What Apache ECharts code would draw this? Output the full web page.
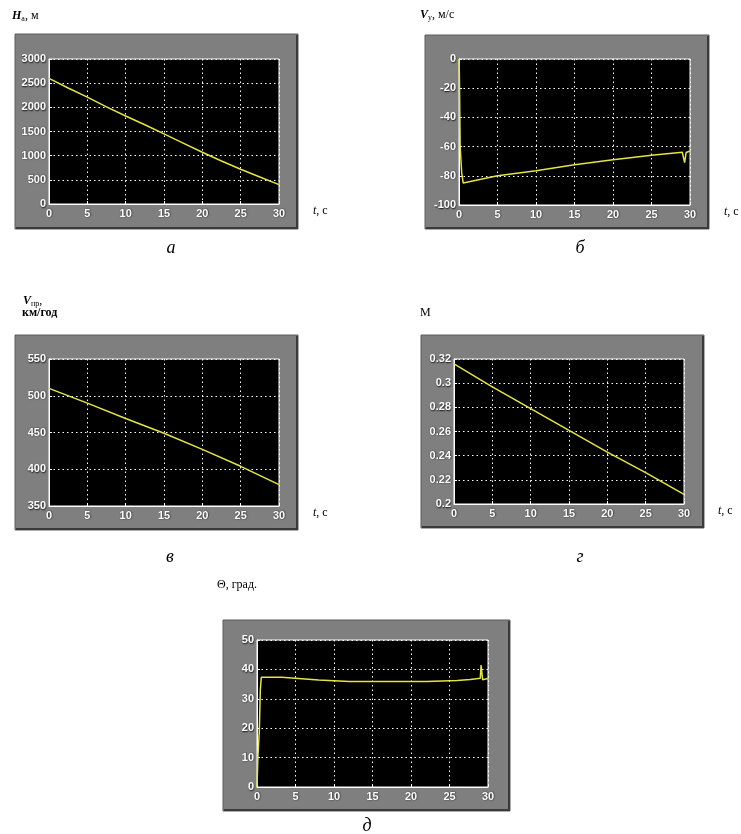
<!DOCTYPE html>
<html>
<head>
<meta charset="utf-8">
<script src="https://cdn.jsdelivr.net/npm/echarts@6/dist/echarts.min.js"></script>
<style>
html,body{margin:0;padding:0;background:#fff;}
#chart{width:741px;height:834px;}
</style>
</head>
<body>
<div id="chart"></div>
<script>
// ---- data ----
// (а) altitude H_a, m
const tA = [0, 2.5, 5, 7.5, 10, 12.5, 15, 17.5, 20, 22.5, 25, 27.5, 30];
const hA = [2600, 2400, 2210, 2010, 1820, 1640, 1450, 1260, 1070, 890, 720, 560, 400];
// (б) vertical speed V_y, m/s
const tB = [0, 0.05, 0.15, 0.35, 0.55, 5, 10, 15, 20, 25, 29, 29.15, 29.3, 29.5, 30];
const vB = [0, -10, -60, -78, -85, -80, -76.5, -72.5, -69, -66, -63.8, -64.5, -71, -64, -63];
// (в) indicated speed V_pr, km/h
const tC = [0, 5, 10, 15, 20, 25, 30];
const vC = [510, 490, 469, 449, 427, 404, 379];
// (г) Mach number M
const tD = [0, 5, 10, 15, 20, 25, 30];
const mD = [0.316, 0.297, 0.279, 0.261, 0.243, 0.226, 0.208];
// (д) flight path angle Θ, deg
const tE = [0, 0.13, 0.3, 0.43, 0.56, 3.2, 3.4, 8, 12, 22, 26, 27.7, 29, 29.1, 29.3, 29.5, 30];
const thE = [0, 11, 19, 33, 37.3, 37.3, 36.8, 36.4, 35.9, 35.9, 36.2, 36.6, 37, 41.5, 36.5, 37, 36.9];

// tick settings
const xTicks = {min: 0, max: 30, interval: 5};
const yTicks = [
  {min: 0, max: 3000, interval: 500},
  {min: -100, max: 0, interval: 20},
  {min: 350, max: 550, interval: 50},
  {min: 0.2, max: 0.32, interval: 0.02},
  {min: 0, max: 50, interval: 10}
];
const seriesT = [tA, tB, tC, tD, tE];
const seriesV = [hA, vB, vC, mD, thE];
const panelLetters = ['а', 'б', 'в', 'г', 'д'];

// ---- layout ----
const grids = [
  {left: 49, top: 59, width: 230, height: 145},
  {left: 459, top: 59, width: 231, height: 146},
  {left: 49, top: 359, width: 230, height: 147},
  {left: 454, top: 359, width: 230, height: 145},
  {left: 257, top: 640, width: 231, height: 147}
];
const panels = [
  [15, 34, 283, 195],
  [425, 35, 284, 194],
  [15, 335, 283, 195],
  [421, 335, 283, 193],
  [223, 620, 287, 191]
];
const letterPos = [[171, 248], [580, 248], [170, 557], [580, 557], [367, 826]];

const labelStyle = {
  color: '#ffffff', fontFamily: 'Liberation Sans, Arial, sans-serif', fontSize: 11, fontWeight: 'bold',
  textShadowColor: 'rgba(0,0,0,0.85)', textShadowBlur: 1.5, textShadowOffsetX: 0.5, textShadowOffsetY: 0.5
};
const serif = 'Liberation Serif, Times New Roman, serif';
const fmt = v => String(parseFloat(v.toFixed(2)));

const xAxes = [], yAxes = [], series = [];
grids.forEach((g, i) => {
  xAxes.push({
    type: 'value', gridIndex: i, min: xTicks.min, max: xTicks.max, interval: xTicks.interval,
    position: 'bottom',
    axisLine: {show: true, onZero: false, lineStyle: {color: '#ffffff', width: 1}},
    axisTick: {show: true, inside: true, length: 3, lineStyle: {color: '#ffffff'}},
    axisLabel: Object.assign({margin: 4, formatter: fmt}, labelStyle),
    splitLine: {show: true, lineStyle: {color: '#ffffff', type: [1.5, 3], width: 1}},
    name: i === 4 ? '' : '{i|t}{n|, с}',
    nameLocation: 'end', nameGap: 34,
    nameTextStyle: {
      padding: [14, 0, 0, 0],
      rich: {
        i: {fontFamily: serif, fontStyle: 'italic', fontSize: 12, color: '#000'},
        n: {fontFamily: serif, fontSize: 12, color: '#000'}
      }
    }
  });
  yAxes.push({
    type: 'value', gridIndex: i, min: yTicks[i].min, max: yTicks[i].max, interval: yTicks[i].interval,
    position: 'left',
    axisLine: {show: true, onZero: false, lineStyle: {color: '#ffffff', width: 1}},
    axisTick: {show: true, inside: true, length: 3, lineStyle: {color: '#ffffff'}},
    axisLabel: Object.assign({margin: 3, formatter: fmt}, labelStyle),
    splitLine: {show: true, lineStyle: {color: '#ffffff', type: [1.5, 3], width: 1}}
  });
  series.push({
    type: 'line', xAxisIndex: i, yAxisIndex: i, symbol: 'none', animation: false,
    lineStyle: {color: '#e4e444', width: 1.5},
    data: seriesT[i].map((t, k) => [t, seriesV[i][k]])
  });
});

const graphic = [];
panels.forEach(p => {
  graphic.push({type: 'rect', z: -10, shape: {x: p[0], y: p[1], width: p[2], height: p[3]},
    style: {fill: '#7f7f7f', stroke: '#5c5c5c', lineWidth: 1}});
  graphic.push({type: 'polyline', z: -9, shape: {points: [[p[0] + 1, p[1] + p[3] - 1], [p[0] + p[2] - 1, p[1] + p[3] - 1], [p[0] + p[2] - 1, p[1] + 1]]},
    style: {stroke: '#3a3a3a', lineWidth: 2, fill: null}});
});
panelLetters.forEach((l, i) => {
  graphic.push({type: 'text', x: letterPos[i][0], y: letterPos[i][1],
    style: {text: l, font: 'italic 18px ' + serif, fill: '#000', align: 'center', verticalAlign: 'middle'}});
});
const richT = {
  i: {fontFamily: serif, fontStyle: 'italic', fontSize: 12, fontWeight: 'bold', fill: '#000'},
  s: {fontFamily: serif, fontSize: 8, fill: '#000', verticalAlign: 'bottom', padding: [6, 0, 0, 0]},
  n: {fontFamily: serif, fontSize: 12, fill: '#000'},
  b: {fontFamily: serif, fontSize: 12, fontWeight: 'bold', fill: '#000'}
};
const titles = [
  {x: 12, y: 16, text: '{i|H}{s|а}{n|, м}'},
  {x: 420, y: 15, text: '{i|V}{s|y}{n|, м/с}'},
  {x: 23, y: 301, text: '{i|V}{s|пр}{n|,}'},
  {x: 22, y: 313, text: '{b|км/год}'},
  {x: 420, y: 313, text: '{n|М}'},
  {x: 217, y: 585, text: '{n|Θ, град.}'}
];
titles.forEach(t => {
  graphic.push({type: 'text', x: t.x, y: t.y,
    style: {text: t.text, rich: richT, align: 'left', verticalAlign: 'middle'}});
});

const chart = echarts.init(document.getElementById('chart'), null, {renderer: 'canvas'});
chart.setOption({
  animation: false,
  backgroundColor: '#ffffff',
  grid: grids.map(g => Object.assign({show: true, backgroundColor: '#000000', borderColor: '#ffffff', borderWidth: 1}, g)),
  xAxis: xAxes,
  yAxis: yAxes,
  series: series,
  graphic: graphic
});
</script>
</body>
</html>
